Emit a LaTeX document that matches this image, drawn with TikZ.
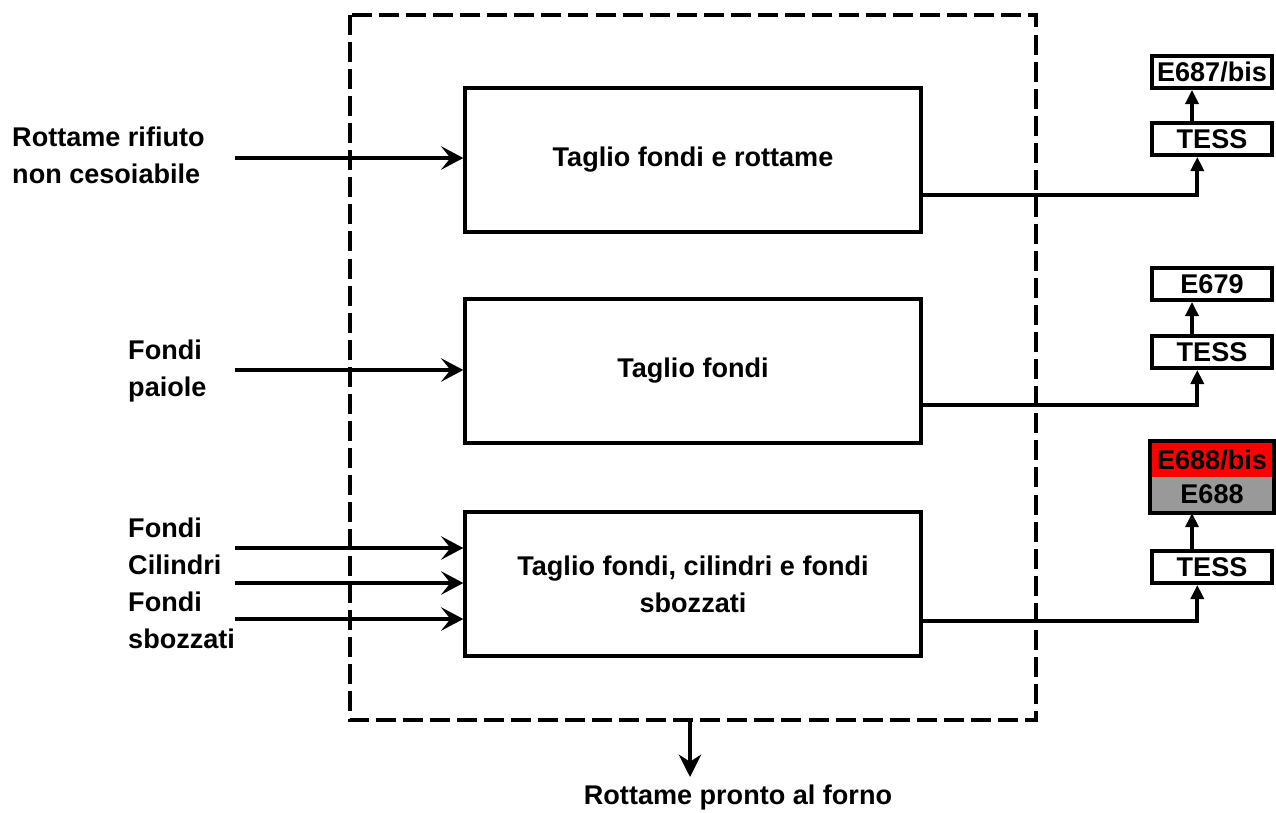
\documentclass[tikz,border=0pt]{standalone}
\usepackage{fontspec}
\setmainfont{Liberation Sans}
\usetikzlibrary{arrows.meta,positioning}
\definecolor{bisred}{HTML}{FF0000}
\definecolor{basegray}{HTML}{999999}

\begin{document}
\begin{tikzpicture}[x=0.85pt,y=-0.85pt,
  font=\fontsize{23}{31.5}\selectfont\bfseries,
  proc/.style={draw,line width=3.4pt,minimum width=387pt,minimum height=122pt,align=center},
  code/.style={draw,line width=3.4pt,minimum width=102pt,minimum height=27pt,inner sep=0pt},
  flow/.style={line width=3.4pt,-{Stealth[length=19pt,width=20pt,inset=8pt]}},
  up/.style={line width=3.4pt,-{Triangle[length=12pt,width=11pt]}},
  lbl/.style={anchor=west,align=left,inner sep=0pt}]
  \useasboundingbox (0,0) rectangle (1276,812);

  % Plant boundary
  \draw[line width=3.4pt,dash pattern=on 17pt off 6pt] (350,15) rectangle (1036,720);

  % Cutting stations
  \node[proc] (box1) at (693,160) {Taglio fondi e rottame};
  \node[proc] (box2) at (693,371) {Taglio fondi};
  \node[proc] (box3) at (693,584) {Taglio fondi, cilindri e fondi\\sbozzati};

  % Left: incoming material
  \node[lbl] (rifiuto) at (12,155) {Rottame rifiuto\\non cesoiabile};
  \node[lbl] (paiole) at (128,371) {Fondi\\paiole};
  \node[lbl] (sbozz) at (128,583) {Fondi\\Cilindri\\Fondi\\sbozzati};
  \foreach \n/\b/\y in {a/box1/158, b/box2/370, c/box3/548, d/box3/583, e/box3/619} {
    \coordinate (in\n) at (235,\y);
    \draw[flow] (in\n) -- (in\n -| \b.west);
  }

  % Right: codes
  \node[code] (tess1) at (1212,139) {TESS};
  \node[code] (e687) at (1212,72) {E687/bis};
  \node[code] (tess2) at (1212,352) {TESS};
  \node[code] (e679) at (1212,284) {E679};
  \node[code] (tess3) at (1212,567) {TESS};
  \node[code,draw=none,fill=bisred,minimum height=29pt] (e688bis) at (1212,460) {E688/bis};
  \node[code,draw=none,fill=basegray,minimum height=29pt] (e688) at (1212,494) {E688};
  \draw[line width=3.4pt] (e688bis.north west) rectangle (e688.south east);

  \foreach \i/\t/\y in {1/e687/195, 2/e679/405, 3/e688/621} {
    \coordinate (out\i) at (921,\y);
    \draw[up] (out\i) -| ([xshift=-12.5pt]tess\i.south);
    \draw[up] ([xshift=-17pt]tess\i.north) -- ([xshift=-17pt]\t.south);
  }

  % Bottom: output
  \node[inner sep=0pt] (forno) at (738,797) {Rottame pronto al forno};
  \coordinate (fb) at (690,720);
  \coordinate (fe) at (690,777);
  \draw[line width=3pt,-{Stealth[length=19pt,width=19pt,inset=6pt]}] (fb) -- (fe);
\end{tikzpicture}
\end{document}
